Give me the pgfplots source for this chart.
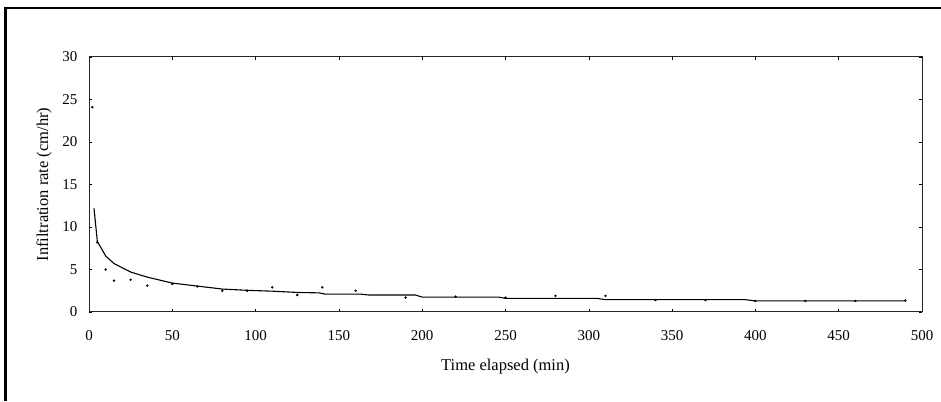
\documentclass[border=0pt]{standalone}
\usepackage{fontspec}
\setmainfont{Liberation Serif}
\usepackage{pgfplots}
\pgfplotsset{compat=1.18}

\begin{document}
\begin{tikzpicture}[x=1pt,y=1pt]
\useasboundingbox (0,0) rectangle (941,401);
% outer frame (left and top only, as in the scan)
\draw[line width=2.8pt] (5.5,0) -- (5.5,393) -- (941,393);
\begin{axis}[
  at={(89pt,89pt)}, anchor=south west,
  scale only axis, width=833pt, height=255pt,
  xmin=0, xmax=500, ymin=0, ymax=30,
  xtick={0,50,...,500}, ytick={0,5,...,30},
  tick align=inside, major tick length=3pt,
  axis line style={line width=1pt, black!85},
  tick style={line width=0.5pt, black},
  ticklabel style={font=\fontsize{15}{18}\selectfont},
  xticklabel style={yshift=-15pt},
  yticklabel style={xshift=-8pt},
  /pgf/number format/assume math mode=true,
  xlabel={Time elapsed (min)},
  ylabel={Infiltration rate (cm/hr)},
  label style={font=\fontsize{16.5}{20}\selectfont},
  xlabel style={at={(axis description cs:0.5,-0.212)}, anchor=center},
  ylabel style={at={(axis description cs:-0.054,0.5)}, anchor=center},
  clip=false,
]
% measured infiltration rates
\addplot[only marks, mark=*, mark size=1pt, black] coordinates {
  (2,24.1) (5,8.2) (10,5.0) (15,3.7) (25,3.8) (35,3.1) (50,3.3) (65,3.0)
  (80,2.5) (95,2.5) (110,2.9) (125,2.0) (140,2.9) (160,2.5) (190,1.7)
  (220,1.8) (250,1.7) (280,1.9) (310,1.9) (340,1.4) (370,1.4) (400,1.3)
  (430,1.3) (460,1.3) (490,1.35)
};
% fitted curve
\addplot[black, line width=1.1pt] coordinates {
  (3,12.2) (5,8.3) (10,6.6) (15,5.7) (25,4.7) (35,4.1) (50,3.4) (65,3.05)
  (80,2.7) (95,2.55) (110,2.45) (125,2.3) (138,2.25) (142,2.1) (163,2.1)
  (168,2.0) (196,2.0) (200,1.75) (246,1.75) (250,1.6) (305,1.6) (310,1.45)
  (394,1.45) (400,1.3) (490,1.3)
};
\end{axis}
\end{tikzpicture}
\end{document}
